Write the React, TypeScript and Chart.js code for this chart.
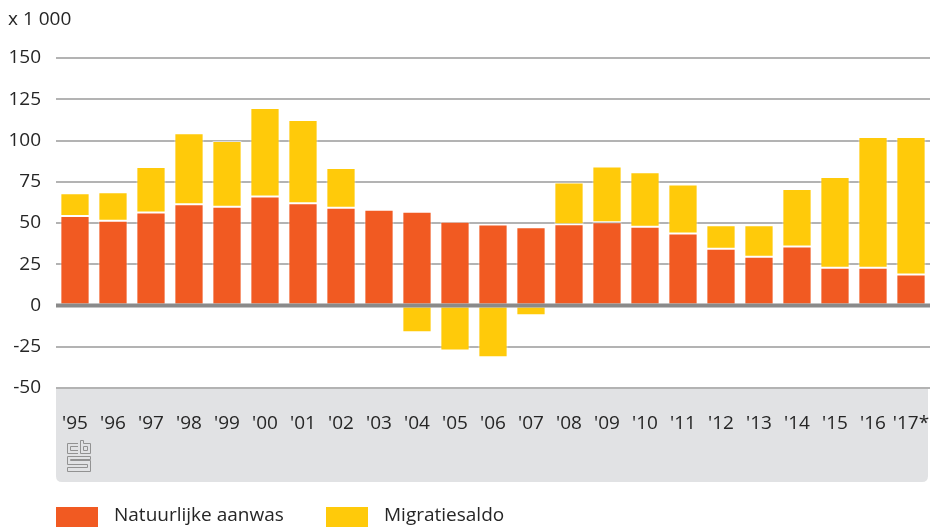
import React, { useEffect, useRef } from 'react';
import { Chart, registerables } from 'chart.js';

Chart.register(...registerables);

const categories = ["'95", "'96", "'97", "'98", "'99", "'00", "'01", "'02", "'03", "'04", "'05", "'06", "'07", "'08", "'09", "'10", "'11", "'12", "'13", "'14", "'15", "'16", "'17*"];
const natuurlijkeAanwas = [54.2, 51.4, 56.4, 61.3, 59.9, 66.0, 61.9, 59.3, 58.0, 56.8, 50.8, 49.1, 47.5, 49.3, 50.4, 47.7, 43.7, 34.4, 29.5, 35.8, 22.9, 22.9, 18.8];
const migratiesaldo = [13.8, 17.2, 27.5, 43.1, 39.8, 53.7, 50.5, 24.0, 0, -16.2, -27.3, -31.4, -5.9, 25.3, 33.9, 33.0, 29.7, 14.3, 19.2, 34.8, 55.0, 79.2, 83.3];
const yMin = -50;
const yMax = 150;
const yStep = 25;
const unitLabel = 'x 1 000';
const seriesLabels = ['Natuurlijke aanwas', 'Migratiesaldo'];
const seriesColors = ['#f15a22', '#ffca0a'];

const FONT = '"Open Sans", "DejaVu Sans", sans-serif';
const TEXT = '#262626';

const decorPlugin = {
  id: 'decor',
  beforeDraw(chart: any) {
    const { ctx, chartArea } = chart;
    const x0 = chartArea.left;
    const x1 = chartArea.right - 2;
    const y0 = chartArea.bottom;
    const y1 = chartArea.bottom + 94;
    const r = 6;
    ctx.save();
    ctx.fillStyle = '#e1e2e4';
    ctx.beginPath();
    ctx.moveTo(x0, y0);
    ctx.lineTo(x1, y0);
    ctx.lineTo(x1, y1 - r);
    ctx.quadraticCurveTo(x1, y1, x1 - r, y1);
    ctx.lineTo(x0 + r, y1);
    ctx.quadraticCurveTo(x0, y1, x0, y1 - r);
    ctx.closePath();
    ctx.fill();

    // CBS logo (approximation)
    ctx.strokeStyle = '#929292';
    ctx.lineWidth = 1;
    const lx = 67.5, ly = 443.5;
    ctx.beginPath();
    // c
    ctx.moveTo(78, ly); ctx.lineTo(lx, ly); ctx.lineTo(lx, ly + 10); ctx.lineTo(78, ly + 10);
    ctx.moveTo(78, ly + 3); ctx.lineTo(lx + 3, ly + 3); ctx.lineTo(lx + 3, ly + 7); ctx.lineTo(78, ly + 7);
    // b
    ctx.moveTo(80.5, ly - 3); ctx.lineTo(80.5, ly + 10); ctx.lineTo(90.5, ly + 10); ctx.lineTo(90.5, ly); ctx.lineTo(83.5, ly); ctx.lineTo(83.5, ly - 3); ctx.closePath();
    ctx.rect(83.5, ly + 3, 4, 4);
    // S
    ctx.moveTo(90.5, ly + 13); ctx.lineTo(lx, ly + 13); ctx.lineTo(lx, ly + 21); ctx.lineTo(87.5, ly + 21); ctx.lineTo(87.5, ly + 24); ctx.lineTo(lx, ly + 24); ctx.lineTo(lx, ly + 28); ctx.lineTo(90.5, ly + 28); ctx.lineTo(90.5, ly + 17); ctx.lineTo(lx + 3, ly + 17); ctx.lineTo(lx + 3, ly + 16); ctx.lineTo(90.5, ly + 16); ctx.closePath();
    ctx.stroke();

    // unit label
    ctx.fillStyle = TEXT;
    ctx.font = `19px ${FONT}`;
    ctx.textAlign = 'left';
    ctx.textBaseline = 'middle';
    ctx.fillText(unitLabel, 8, 20);
    ctx.restore();
  },
  afterDatasetsDraw(chart: any) {
    const { ctx, chartArea, scales } = chart;
    const y = scales.y.getPixelForValue(0);
    ctx.save();
    ctx.strokeStyle = '#8a8a8a';
    ctx.lineWidth = 4;
    ctx.beginPath();
    ctx.moveTo(chartArea.left, y);
    ctx.lineTo(chartArea.right, y);
    ctx.stroke();
    ctx.restore();
  },
  afterDraw(chart: any) {
    const { ctx } = chart;
    const items = chart.data.datasets.map((d: any) => ({ label: d.label, color: d.backgroundColor }));
    const positions = [56, 326];
    ctx.save();
    ctx.font = `19px ${FONT}`;
    ctx.textBaseline = 'middle';
    ctx.textAlign = 'left';
    items.forEach((it: any, i: number) => {
      const x = positions[i];
      ctx.fillStyle = it.color;
      ctx.fillRect(x, 507, 42, 20);
      ctx.fillStyle = TEXT;
      ctx.fillText(it.label, x + 58, 516);
    });
    ctx.restore();
  },
};

export default function App() {
  const ref = useRef<HTMLCanvasElement | null>(null);
  useEffect(() => {
    if (!ref.current) return;
    const chart = new Chart(ref.current, {
      type: 'bar',
      data: {
        labels: categories,
        datasets: [
          {
            label: seriesLabels[0],
            data: natuurlijkeAanwas,
            backgroundColor: seriesColors[0],
            borderColor: 'rgba(255,255,255,0.55)',
            borderWidth: 1,
            borderSkipped: false,
            barPercentage: 0.77,
            categoryPercentage: 1,
          },
          {
            label: seriesLabels[1],
            data: migratiesaldo,
            backgroundColor: seriesColors[1],
            borderColor: 'rgba(255,255,255,0.55)',
            borderWidth: 1,
            borderSkipped: false,
            barPercentage: 0.77,
            categoryPercentage: 1,
          },
        ],
      },
      options: {
        responsive: false,
        animation: false,
        layout: { padding: { top: 58, right: 0, bottom: 0, left: 0 } },
        plugins: { legend: { display: false }, tooltip: { enabled: false }, title: { display: false } },
        scales: {
          x: {
            stacked: true,
            grid: { display: false },
            border: { display: false },
            ticks: { color: TEXT, font: { family: FONT, size: 19 }, padding: 16, maxRotation: 0, autoSkip: false },
            afterFit: (s: any) => { s.height = 139; s.paddingLeft = 0; s.paddingRight = 0; },
          },
          y: {
            stacked: true,
            min: yMin,
            max: yMax,
            border: { display: false },
            grid: {
              drawTicks: false,
              color: (c: any) => (c.tick && c.tick.value === 0 ? 'rgba(0,0,0,0)' : '#b3b3b3'),
              lineWidth: 2,
            },
            ticks: {
              stepSize: yStep,
              color: TEXT,
              font: { family: FONT, size: 19 },
              padding: 15,
              callback: (v: any) => String(v),
            },
            afterFit: (s: any) => { s.width = 56; },
          },
        },
      },
      plugins: [decorPlugin],
    });
    return () => chart.destroy();
  }, []);
  return (
    <div style={{ position: 'fixed', left: 0, top: 0, width: 930, height: 527, background: '#fff' }}>
      <canvas ref={ref} width={930} height={527} style={{ display: 'block' }} />
    </div>
  );
}
